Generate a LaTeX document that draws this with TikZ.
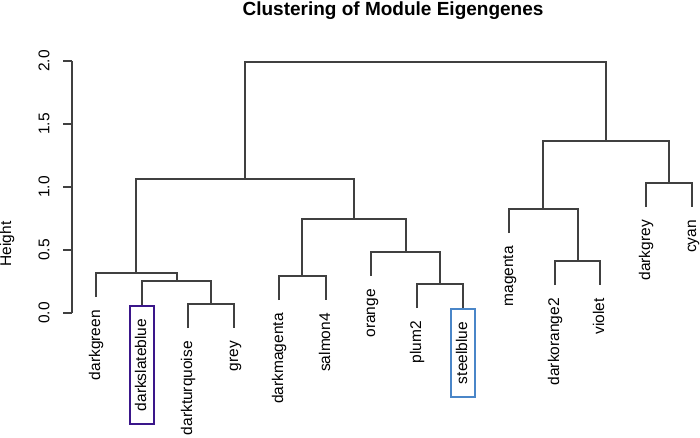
\documentclass[tikz,border=0pt]{standalone}
\usepackage{fontspec}
\setmainfont{Liberation Sans}
\begin{document}
\begin{tikzpicture}[x=1pt,y=-1pt,
  link/.style={draw=black!75,line width=1.1pt},
  leaflab/.style={rotate=90,anchor=east,font=\fontsize{15.5}{18}\selectfont,
     inner xsep=13pt,inner ysep=5pt,text height=11.2pt,text depth=3.2pt},
  ticklab/.style={rotate=90,font=\fontsize{15.5}{18}\selectfont,inner sep=0pt},
  boxa/.style={draw={rgb,255:red,58;green,22;blue,138},line width=2pt},
  boxb/.style={draw={rgb,255:red,74;green,134;blue,200},line width=2pt}]
\useasboundingbox (0,0) rectangle (700,437);
\fill[white] (0,0) rectangle (700,437);
% title
\node[font=\bfseries\fontsize{19}{22}\selectfont] (title) at (393,11) {Clustering of Module Eigengenes};
% axis
\coordinate (a0) at (72,313);
\coordinate (a2) at (72,61);
\draw[link] (a0) -- (a2);
\foreach \v/\y in {0.0/313,0.5/250,1.0/187,1.5/124,2.0/61}{
  \draw[link] (72,\y) -- (63,\y);
  \node[ticklab] (t\v) at (44,\y) {\v};
}
\node[ticklab,inner sep=0pt,text height=11.2pt,text depth=3.2pt] (ylab) at (7,244) {Height};
% leaf ends
\coordinate (l1) at (96,297);
\coordinate (l2) at (142,305);
\coordinate (l3) at (188,328);
\coordinate (l4) at (234,328);
\coordinate (l5) at (279,300);
\coordinate (l6) at (326,300);
\coordinate (l7) at (371,276);
\coordinate (l8) at (417,308);
\coordinate (l9) at (463,308);
\coordinate (l10) at (509,233);
\coordinate (l11) at (555,285);
\coordinate (l12) at (600,285);
\coordinate (l13) at (646,207);
\coordinate (l14) at (692,207);
% labels
\node[leaflab] (n1) at (l1) {darkgreen};
\node[leaflab,boxa] (n2) at (l2) {darkslateblue};
\node[leaflab] (n3) at (l3) {darkturquoise};
\node[leaflab] (n4) at (l4) {grey};
\node[leaflab] (n5) at (l5) {darkmagenta};
\node[leaflab] (n6) at (l6) {salmon4};
\node[leaflab] (n7) at (l7) {orange};
\node[leaflab] (n8) at (l8) {plum2};
\node[leaflab,boxb] (n9) at (l9) {steelblue};
\node[leaflab] (n10) at (l10) {magenta};
\node[leaflab] (n11) at (l11) {darkorange2};
\node[leaflab] (n12) at (l12) {violet};
\node[leaflab] (n13) at (l13) {darkgrey};
\node[leaflab] (n14) at (l14) {cyan};
% merges
\coordinate (m1) at (211,304);
\coordinate (m2) at (177,281);
\coordinate (m3) at (136,273);
\coordinate (m4) at (302,276);
\coordinate (m5) at (440,284);
\coordinate (m6) at (406,252);
\coordinate (m7) at (354,219);
\coordinate (m8) at (245,179);
\coordinate (m9) at (578,261);
\coordinate (m10) at (543,209);
\coordinate (m11) at (669,183);
\coordinate (m12) at (606,141);
\coordinate (m13) at (426,62);
\draw[link] (l3) |- (m1) -| (l4);
\draw[link] (l2) |- (m2) -| (m1);
\draw[link] (l1) |- (m3) -| (m2);
\draw[link] (l5) |- (m4) -| (l6);
\draw[link] (l8) |- (m5) -| (l9);
\draw[link] (l7) |- (m6) -| (m5);
\draw[link] (m4) |- (m7) -| (m6);
\draw[link] (m3) |- (m8) -| (m7);
\draw[link] (l11) |- (m9) -| (l12);
\draw[link] (l10) |- (m10) -| (m9);
\draw[link] (l13) |- (m11) -| (l14);
\draw[link] (m10) |- (m12) -| (m11);
\draw[link] (m8) |- (m13) -| (m12);
\end{tikzpicture}
\end{document}
